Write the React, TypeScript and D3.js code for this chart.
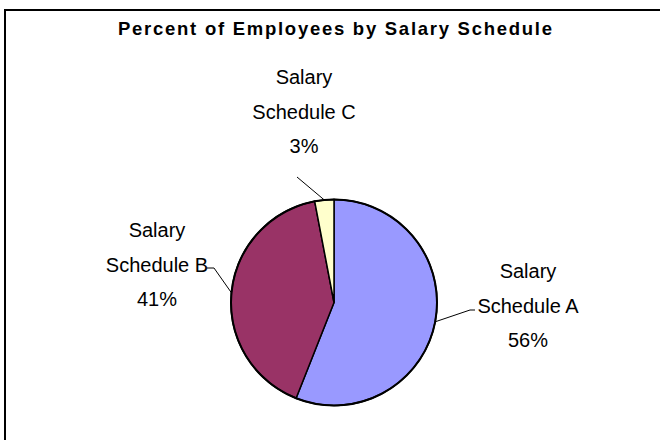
import React from "react";
import * as d3 from "d3";

const categories = ["Salary Schedule A", "Salary Schedule B", "Salary Schedule C"];
const values = [56, 41, 3];
const labelLines = [
  ["Salary", "Schedule A", "56%"],
  ["Salary", "Schedule B", "41%"],
  ["Salary", "Schedule C", "3%"],
];
const colors = ["#9999FF", "#993366", "#FFFFCC"];

const W = 660;
const H = 440;
const cx = 334;
const cy = 302.5;
const R = 103;

// label anchor positions (center x, first baseline y) and leader line elbows
const labelPos = [
  { x: 528, y: 278, elbow: [470, 310], end: [475, 310] },
  { x: 157, y: 237, elbow: [214, 268], end: [207, 268] },
  { x: 304, y: 84, elbow: [297, 177], end: [297, 177] },
];

export default function App() {
  const pie = d3
    .pie<number>()
    .sort(null)
    .value((d) => d);
  const arcs = pie(values);
  const arc = d3.arc<d3.PieArcDatum<number>>().innerRadius(0).outerRadius(R);
  const font = "'Liberation Sans', Arial, sans-serif";

  return (
    <svg width={W} height={H} style={{ position: "absolute", left: 0, top: 0 }}>
      <rect x={0} y={0} width={W} height={H} fill="#fff" />
      <rect x={5} y={10} width={700} height={500} fill="none" stroke="#000" strokeWidth={2} />
      <text
        x={335}
        y={35}
        textAnchor="middle"
        fontFamily={font}
        fontWeight="bold"
        fontSize={18.5}
        textLength={434}
        lengthAdjust="spacing"
      >
        Percent of Employees by Salary Schedule
      </text>
      <g transform={`translate(${cx},${cy})`}>
        {arcs.map((a, i) => (
          <path key={categories[i]} d={arc(a) || ""} fill={colors[i]} stroke="#000" strokeWidth={1.5} />
        ))}
        <circle r={R} fill="none" stroke="#000" strokeWidth={2} />
      </g>
      {arcs.map((a, i) => {
        const mid = (a.startAngle + a.endAngle) / 2;
        const px = cx + R * Math.sin(mid);
        const py = cy - R * Math.cos(mid);
        const lp = labelPos[i];
        return (
          <g key={"l" + i}>
            <polyline
              points={`${px},${py} ${lp.elbow[0]},${lp.elbow[1]} ${lp.end[0]},${lp.end[1]}`}
              fill="none"
              stroke="#000"
              strokeWidth={1}
            />
            {labelLines[i].map((t, j) => (
              <text
                key={j}
                x={lp.x}
                y={lp.y + j * 34.5}
                textAnchor="middle"
                fontFamily={font}
                fontSize={20}
                fill="#000"
              >
                {t}
              </text>
            ))}
          </g>
        );
      })}
    </svg>
  );
}
